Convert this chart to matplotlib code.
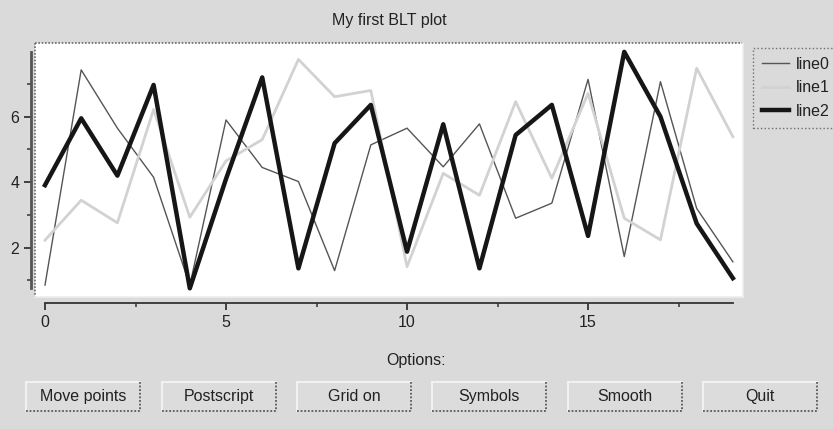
"""
BLT-style demo plot with three lines and a row of option buttons.
"""

import matplotlib
matplotlib.use("Agg")
import matplotlib.pyplot as plt
from matplotlib.lines import Line2D
from matplotlib.patches import Rectangle

plt.rcParams["font.family"] = ["Liberation Sans", "DejaVu Sans"]

# data
x = list(range(20))
line0 = [0.86, 7.43, 5.65, 4.15, 0.85, 5.9, 4.45, 4.02, 1.3, 5.14,
         5.65, 4.47, 5.78, 2.9, 3.36, 7.14, 1.73, 7.07, 3.2, 1.57]
line1 = [2.23, 3.45, 2.76, 6.22, 2.93, 4.65, 5.3, 7.75, 6.61, 6.8,
         1.42, 4.27, 3.6, 6.46, 4.12, 6.71, 2.9, 2.24, 7.48, 5.39]
line2 = [3.91, 5.95, 4.2, 6.97, 0.76, 4.1, 7.2, 1.37, 5.19, 6.36,
         1.88, 5.77, 1.37, 5.44, 6.36, 2.36, 7.98, 6.0, 2.74, 1.07]
series = ["line0", "line1", "line2"]
buttons = ["Move points", "Postscript", "Grid on", "Symbols", "Smooth", "Quit"]

W, H = 833, 429
BG = "#dadada"
FS = 11.5


def fx(px):
    return px / W


def fy(py):
    return 1 - py / H


fig = plt.figure(figsize=(W / 100, H / 100), dpi=100, facecolor=BG)

# plotting area (white)
left, right, top, bottom = 35, 743, 43, 297
ax = fig.add_axes([fx(left), fy(bottom), fx(right) - fx(left), fy(top) - fy(bottom)])
ax.set_facecolor("white")

ax.plot(x, line0, color="#555555", lw=1.0, label=series[0])
ax.plot(x, line1, color="#d2d2d2", lw=2.0, label=series[1])
ax.plot(x, line2, color="#161616", lw=3.2, label=series[2])

ax.set_xlim(-0.276, 19.28)
ax.set_ylim(0.495, 8.25)

# axes drawn outside the plot area like BLT
ymin = min(line0 + line1 + line2)
ymax = max(line0 + line1 + line2)
ax.spines["top"].set_visible(False)
ax.spines["right"].set_visible(False)
ax.spines["left"].set_position(("outward", 2.9))
ax.spines["left"].set_bounds(ymin, ymax)
ax.spines["left"].set_color("#555555")
ax.spines["left"].set_linewidth(2.0)
ax.spines["bottom"].set_position(("outward", 4.3))
ax.spines["bottom"].set_bounds(0, 19)
ax.spines["bottom"].set_color("#333333")
ax.spines["bottom"].set_linewidth(1.3)

ax.set_xticks([0, 5, 10, 15])
ax.set_xticks([2.5, 7.5, 12.5, 17.5], minor=True)
ax.set_yticks([2, 4, 6])
ax.set_yticks([1, 3, 5, 7], minor=True)
ax.tick_params(which="major", direction="out", length=5, width=1.3,
               color="#333333", labelsize=FS, labelcolor="#222222")
ax.tick_params(which="minor", direction="out", length=3, width=1.1, color="#333333")
ax.tick_params(axis="x", pad=4)
ax.tick_params(axis="y", pad=3.5)

# sunken border around the plot area
def fline(x0, y0, x1, y1, **kw):
    fig.add_artist(Line2D([fx(x0), fx(x1)], [fy(y0), fy(y1)],
                          transform=fig.transFigure, **kw))

fline(left, top, right, top, color="#6a6a6a", lw=1.2, ls=(0, (1, 1)))
fline(left, top, left, bottom, color="#6a6a6a", lw=1.2, ls=(0, (1, 1)))
fline(left, bottom, right, bottom, color="#eeeeee", lw=1.2)
fline(right, top, right, bottom, color="#eeeeee", lw=1.2)

fig.text(fx(389), fy(20), "My first BLT plot", ha="center", va="center",
         fontsize=FS, color="#222222")

leg = ax.legend(loc="upper left", bbox_to_anchor=(fx(753), fy(48)),
                bbox_transform=fig.transFigure, fontsize=FS, frameon=True,
                fancybox=False, handlelength=1.7, handletextpad=0.45,
                labelspacing=0.54, borderpad=0.55, borderaxespad=0)
leg.get_frame().set_facecolor(BG)
leg.get_frame().set_edgecolor("#555555")
leg.get_frame().set_linestyle(":")
leg.get_frame().set_linewidth(1.0)
for t in leg.get_texts():
    t.set_color("#222222")

fig.text(fx(416), fy(360), "Options:", ha="center", va="center",
         fontsize=FS, color="#222222")

# button row
b_top, b_bot, b_w = 382, 411, 114
b_lefts = [26, 162, 297, 432, 568, 703]
for bl, name in zip(b_lefts, buttons):
    fig.add_artist(Rectangle((fx(bl), fy(b_bot)), fx(b_w), fy(b_top) - fy(b_bot),
                             transform=fig.transFigure, facecolor="#dcdcdc",
                             edgecolor="none"))
    fline(bl, b_top, bl + b_w, b_top, color="#f4f4f4", lw=1.3)
    fline(bl, b_top, bl, b_bot, color="#f4f4f4", lw=1.3)
    fline(bl, b_bot, bl + b_w, b_bot, color="#5a5a5a", lw=1.3, ls=(0, (1, 1)))
    fline(bl + b_w, b_top, bl + b_w, b_bot, color="#5a5a5a", lw=1.3, ls=(0, (1, 1)))
    fig.text(fx(bl + b_w / 2), fy((b_top + b_bot) / 2), name, ha="center",
             va="center", fontsize=FS, color="#222222")

fig.savefig("out.png", dpi=100, facecolor=BG)
